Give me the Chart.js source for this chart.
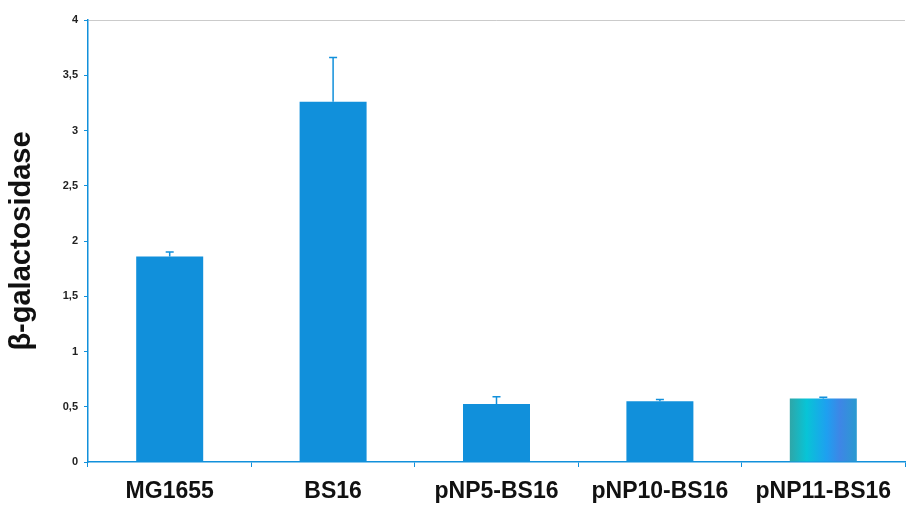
<!DOCTYPE html>
<html>
<head>
<meta charset="utf-8">
<script src="https://cdn.jsdelivr.net/npm/chart.js@4.4.0/dist/chart.umd.min.js"></script>
<style>
html,body{margin:0;padding:0;background:#fff;}
#wrap{width:912px;height:509px;}
</style>
</head>
<body>
<div id="wrap"><canvas id="c" width="912" height="509"></canvas></div>
<script>
const categories = ["MG1655", "BS16", "pNP5-BS16", "pNP10-BS16", "pNP11-BS16"];
const values = [1.86, 3.26, 0.525, 0.55, 0.575];
const errors = [0.04, 0.40, 0.065, 0.015, 0.01];
const yTicks = [0, 0.5, 1, 1.5, 2, 2.5, 3, 3.5, 4];

const BLUE = '#1190db';

function barColor(ctx) {
  const chart = ctx.chart;
  if (ctx.dataIndex !== 4) return BLUE;
  const xs = chart.scales && chart.scales.x;
  if (!xs || !chart.chartArea) return BLUE;
  const cx = xs.getPixelForValue(4);
  const step = (xs.right - xs.left) / categories.length;
  const w = step * 0.41;
  if (!Number.isFinite(cx) || !Number.isFinite(w) || w <= 0) return BLUE;
  const g = chart.ctx.createLinearGradient(cx - w / 2, 0, cx + w / 2, 0);
  g.addColorStop(0, '#2fa6a8');
  g.addColorStop(0.25, '#08c4d6');
  g.addColorStop(0.55, '#1ea0f0');
  g.addColorStop(0.75, '#3e86e6');
  g.addColorStop(1, '#2a9ad0');
  return g;
}

const errorBars = {
  id: 'errorBars',
  afterDatasetsDraw(chart) {
    const meta = chart.getDatasetMeta(0);
    const y = chart.scales.y;
    const c = chart.ctx;
    c.save();
    c.strokeStyle = BLUE;
    c.lineWidth = 1.5;
    meta.data.forEach((bar, i) => {
      const top = y.getPixelForValue(values[i] + errors[i]);
      const base = y.getPixelForValue(values[i]);
      c.beginPath();
      c.moveTo(bar.x, base);
      c.lineTo(bar.x, top);
      c.moveTo(bar.x - 4, top);
      c.lineTo(bar.x + 4, top);
      c.stroke();
    });
    c.restore();
  }
};

new Chart(document.getElementById('c'), {
  type: 'bar',
  data: {
    labels: categories,
    datasets: [{
      data: values,
      backgroundColor: barColor,
      borderWidth: 0,
      categoryPercentage: 1.0,
      barPercentage: 0.41
    }]
  },
  options: {
    responsive: false,
    animation: false,
    layout: { padding: { top: 20, right: 7, left: 0, bottom: 0 } },
    plugins: { legend: { display: false }, tooltip: { enabled: false } },
    scales: {
      x: {
        offset: true,
        grid: { offset: true, drawOnChartArea: false, tickLength: 5, color: BLUE, tickColor: BLUE, lineWidth: 1 },
        border: { color: BLUE, width: 1.5 },
        ticks: { color: '#111', font: { family: 'Liberation Sans, Arial, sans-serif', size: 23, weight: 'bold' }, padding: 11, maxRotation: 0, autoSkip: false },
        afterFit(s) { s.height = 47; }
      },
      y: {
        min: 0, max: 4,
        afterBuildTicks(s) { s.ticks = yTicks.map(v => ({ value: v })); },
        grid: {
          drawOnChartArea: true,
          color: (ctx) => (ctx.tick && ctx.tick.value === 4) ? 'rgba(190,190,190,0.8)' : 'rgba(0,0,0,0)',
          tickColor: BLUE,
          tickLength: 4,
          lineWidth: 1
        },
        border: { color: BLUE, width: 1.5 },
        ticks: {
          color: '#222',
          font: { family: 'Liberation Sans, Arial, sans-serif', size: 11, weight: 'bold' },
          padding: 6,
          callback: (v) => String(v).replace('.', ',')
        },
        title: {
          display: true,
          text: 'β-galactosidase',
          color: '#111',
          font: { family: 'Liberation Sans, Arial, sans-serif', size: 29, weight: 'bold' },
          padding: { top: 5, bottom: 10 }
        },
        afterFit(s) { s.width = 88; }
      }
    }
  },
  plugins: [errorBars]
});
</script>
</body>
</html>
